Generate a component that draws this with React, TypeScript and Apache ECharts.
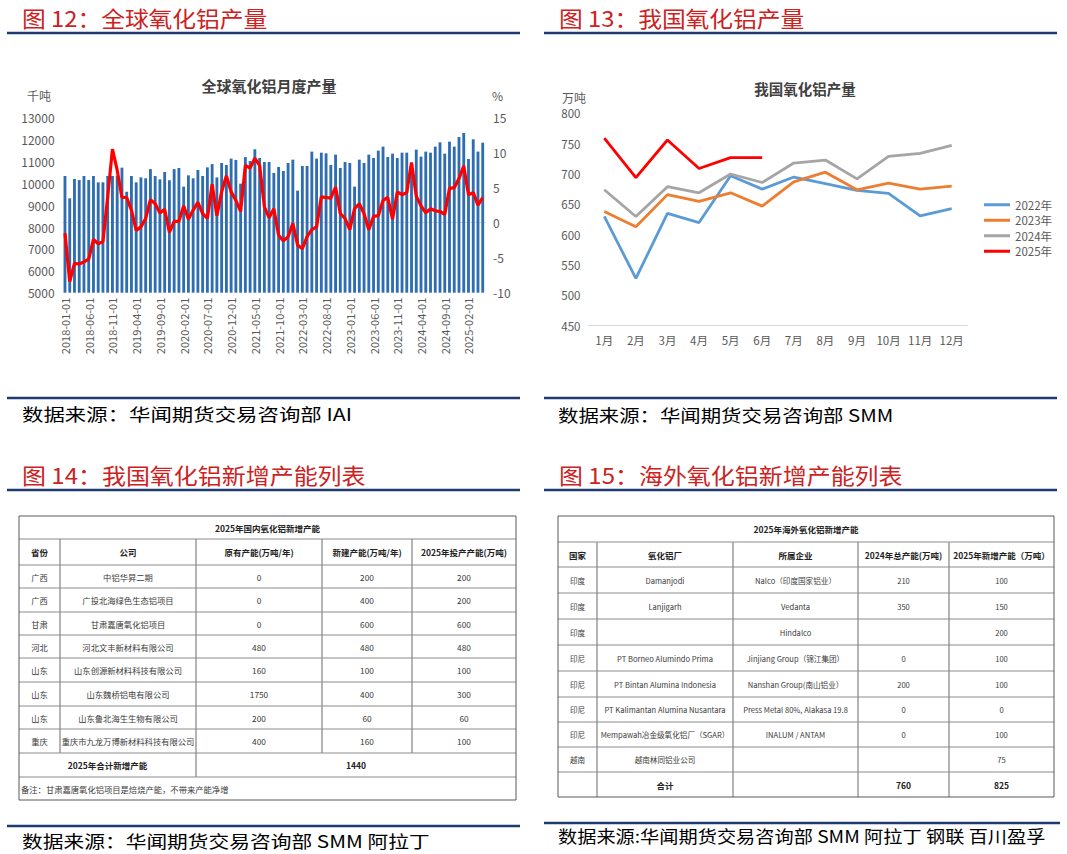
import React, { useEffect, useRef } from "react";
import * as echarts from "echarts";

const FONT = "'Noto Sans CJK SC', 'Noto Sans', sans-serif";

// ---------- Figure 12: global alumina monthly output ----------
function buildMonths(startYear: number, startMonth: number, count: number): string[] {
  const out: string[] = [];
  let y = startYear;
  let m = startMonth;
  for (let i = 0; i < count; i++) {
    out.push(`${y}-${String(m).padStart(2, "0")}-01`);
    m++;
    if (m > 12) { m = 1; y++; }
  }
  return out;
}
const globalDates = buildMonths(2018, 1, 89);

const globalOutput = [
  10335, 9314, 10200, 10150, 10335, 10150, 10335, 10045, 10045, 10335, 10335, 10350,
  10716, 9620, 10335, 10045, 10270, 10230, 10650, 10335, 10180, 10520, 10140, 10650,
  10700, 9850, 10365, 10230, 10610, 10335, 10730, 10880, 10270, 10930, 10840, 11130,
  11070, 9985, 11200, 11020, 11555, 11160, 10976, 10976, 10473, 10747, 10564, 10930,
  11082, 9665, 10793, 10793, 11448, 11128, 11402, 11372, 10838, 11311, 10701, 10976,
  10930, 9848, 11082, 10930, 11311, 11159, 11494, 11677, 11204, 11357, 11159, 11402,
  11402, 10700, 11540, 11220, 11448, 11402, 11677, 11875, 11357, 11905, 11677, 12119,
  12302, 11113, 12012, 11450, 11860,
];

const globalYoY = [
  -1.5, -8.4, -5.8, -5.9, -5.6, -5.2, -2.4, -3.0, -2.7, 3.7, 10.5, 7.5,
  3.6, 3.6, 1.8, -1.1, -0.6, 0.6, 3.3, 2.7, 1.4, 1.9, -1.4, 0.2,
  0.2, 2.4, 0.5, 1.8, 2.9, 1.3, 0.6, 5.5, 1.0, 4.4, 6.7, 4.4,
  3.2, 1.6, 8.2, 7.8, 9.2, 8.2, 2.3, 0.7, 2.0, -1.8, -2.6, -2.0,
  -0.1, -3.2, -3.7, -2.0, -1.0, -0.6, 3.7, 3.6, 3.5, 5.1, 1.3, 0.6,
  -1.0, 2.0, 2.7, 1.3, -1.0, 0.9, 1.0, 3.2, 3.6, 0.5, 4.4, 4.0,
  4.3, 8.6, 3.8, 2.4, 1.4, 2.0, 1.7, 1.6, 1.2, 4.9, 5.0, 6.3,
  8.1, 4.0, 4.3, 2.5, 3.6,
];

// ---------- Figure 13: China alumina output ----------
const cnMonths = ["1月", "2月", "3月", "4月", "5月", "6月", "7月", "8月", "9月", "10月", "11月", "12月"];
const cn2022 = [630, 528, 635, 620, 697, 675, 695, 684, 673, 668, 631, 643];
const cn2023 = [638, 613, 666, 655, 669, 647, 687, 703, 674, 685, 675, 680];
const cn2024 = [674, 630, 679, 669, 700, 686, 718, 723, 692, 729, 734, 747];
const cn2025 = [759, 694, 756, 709, 727, 727];
const cnSeriesNames = ["2022年", "2023年", "2024年", "2025年"];
const cnColors = ["#5b9bd5", "#ed7d31", "#a5a5a5", "#ff0000"];

// ---------- Figure 14 table ----------
const t14Title = "2025年国内氧化铝新增产能";
const t14Header = ["省份", "公司", "原有产能(万吨/年)", "新建产能(万吨/年)", "2025年投产产能(万吨)"];
const t14Rows = [
  ["广西", "中铝华昇二期", "0", "200", "200"],
  ["广西", "广投北海绿色生态铝项目", "0", "400", "200"],
  ["甘肃", "甘肃嘉唐氧化铝项目", "0", "600", "600"],
  ["河北", "河北文丰新材料有限公司", "480", "480", "480"],
  ["山东", "山东创源新材料科技有限公司", "160", "100", "100"],
  ["山东", "山东魏桥铝电有限公司", "1750", "400", "300"],
  ["山东", "山东鲁北海生生物有限公司", "200", "60", "60"],
  ["重庆", "重庆市九龙万博新材料科技有限公司", "400", "160", "100"],
];
const t14TotalLabel = "2025年合计新增产能";
const t14TotalValue = "1440";
const t14Note = "备注：甘肃嘉唐氧化铝项目是焙烧产能，不带来产能净增";

// ---------- Figure 15 table ----------
const t15Title = "2025年海外氧化铝新增产能";
const t15Header = ["国家", "氧化铝厂", "所属企业", "2024年总产能(万吨)", "2025年新增产能（万吨）"];
const t15Rows = [
  ["印度", "Damanjodi", "Nalco（印度国家铝业）", "210", "100"],
  ["印度", "Lanjigarh", "Vedanta", "350", "150"],
  ["印度", "", "Hindalco", "", "200"],
  ["印尼", "PT Borneo Alumindo Prima", "Jinjiang Group（锦江集团）", "0", "100"],
  ["印尼", "PT Bintan Alumina Indonesia", "Nanshan Group(南山铝业）", "200", "100"],
  ["印尼", "PT Kalimantan Alumina Nusantara", "Press Metal 80%, Alakasa 19.8", "0", "0"],
  ["印尼", "Mempawah冶金级氧化铝厂（SGAR）", "INALUM / ANTAM", "0", "100"],
  ["越南", "越南林同铝业公司", "", "", "75"],
];
const t15Total = ["", "合计", "", "760", "825"];

// ---------- helpers ----------
function txt(text: string, x: number, y: number, o: any = {}) {
  const align = o.align || "left";
  return {
    type: "text",
    silent: true,
    x,
    y,
    scaleX: o.scaleX || 1,
    z: 10,
    style: {
      text,
      fill: o.color || "#333",
      fontSize: o.fontSize || 12,
      fontFamily: o.fontFamily || FONT,
      fontWeight: o.fontWeight || "normal",
      textAlign: align,
      textVerticalAlign: "middle",
      align,
      verticalAlign: "middle",
    },
  };
}
function hline(x1: number, x2: number, y: number, color: string, w: number) {
  return { type: "line", silent: true, z: 5, shape: { x1, y1: y, x2, y2: y }, style: { stroke: color, lineWidth: w } };
}
function vline(x: number, y1: number, y2: number, color: string, w: number) {
  return { type: "line", silent: true, z: 5, shape: { x1: x, y1, x2: x, y2 }, style: { stroke: color, lineWidth: w } };
}

const BORDER = "#8c8c8c";
const OUTER = "#595959";
const CELL_TXT = "#3a3a3a";

function table14(): any[] {
  const cols = [19, 60, 196, 322, 412, 516];
  const rows = [516, 539, 565, 588, 612, 635, 658, 682, 706, 729, 753, 777, 800];
  const g: any[] = [];
  g.push({ type: "rect", silent: true, z: 6, shape: { x: cols[0], y: rows[0], width: cols[5] - cols[0], height: rows[12] - rows[0] }, style: { fill: "none", stroke: OUTER, lineWidth: 1 } });
  for (let r = 1; r < rows.length - 1; r++) g.push(hline(cols[0], cols[5], rows[r], BORDER, 1));
  for (let c = 1; c < cols.length - 1; c++) g.push(vline(cols[c], rows[1], rows[10], BORDER, 1.3));
  g.push(vline(cols[2], rows[10], rows[11], BORDER, 1.3));
  const mid = (a: number, b: number) => (a + b) / 2;
  g.push(txt(t14Title, mid(cols[0], cols[5]), mid(rows[0], rows[1]), { align: "center", fontSize: 8.5, fontWeight: "bold", color: "#222" }));
  t14Header.forEach((h, c) => g.push(txt(h, mid(cols[c], cols[c + 1]), mid(rows[1], rows[2]), { align: "center", fontSize: 8.5, fontWeight: "bold", color: "#222" })));
  t14Rows.forEach((row, r) => row.forEach((v, c) => {
    if (v) g.push(txt(v, mid(cols[c], cols[c + 1]), mid(rows[r + 2], rows[r + 3]), { align: "center", fontSize: 8.3, color: CELL_TXT }));
  }));
  g.push(txt(t14TotalLabel, mid(cols[0], cols[2]), mid(rows[10], rows[11]), { align: "center", fontSize: 8.5, fontWeight: "bold", color: "#222" }));
  g.push(txt(t14TotalValue, mid(cols[2], cols[5]), mid(rows[10], rows[11]), { align: "center", fontSize: 8.5, fontWeight: "bold", color: "#222" }));
  g.push(txt(t14Note, cols[0] + 2, mid(rows[11], rows[12]), { align: "left", fontSize: 8.3, color: CELL_TXT }));
  return g;
}

function table15(): any[] {
  const cols = [558, 597, 733, 858, 949, 1054];
  const rows = [516, 542, 567, 593, 619, 645, 671, 697, 722, 747, 772, 797];
  const g: any[] = [];
  g.push({ type: "rect", silent: true, z: 6, shape: { x: cols[0], y: rows[0], width: cols[5] - cols[0], height: rows[11] - rows[0] }, style: { fill: "none", stroke: OUTER, lineWidth: 1 } });
  for (let r = 1; r < rows.length - 1; r++) g.push(hline(cols[0], cols[5], rows[r], BORDER, 1));
  for (let c = 1; c < cols.length - 1; c++) g.push(vline(cols[c], rows[1], rows[11], BORDER, 1.3));
  const mid = (a: number, b: number) => (a + b) / 2;
  g.push(txt(t15Title, mid(cols[0], cols[5]), mid(rows[0], rows[1]), { align: "center", fontSize: 8.5, fontWeight: "bold", color: "#222" }));
  t15Header.forEach((h, c) => g.push(txt(h, mid(cols[c], cols[c + 1]), mid(rows[1], rows[2]), { align: "center", fontSize: 8.5, fontWeight: "bold", color: "#222" })));
  t15Rows.forEach((row, r) => row.forEach((v, c) => {
    if (v) g.push(txt(v, mid(cols[c], cols[c + 1]), mid(rows[r + 2], rows[r + 3]), { align: "center", fontSize: 7.6, color: CELL_TXT }));
  }));
  t15Total.forEach((v, c) => {
    if (v) g.push(txt(v, mid(cols[c], cols[c + 1]), mid(rows[10], rows[11]), { align: "center", fontSize: 8.5, fontWeight: "bold", color: "#222" }));
  });
  return g;
}

const NAVY = "#1f3a70";
const RED_TITLE = "#cc2222";
const AXIS_TXT = "#595959";

export default function App() {
  const ref = useRef<HTMLDivElement>(null);
  useEffect(() => {
    if (!ref.current) return;
    const chart = echarts.init(ref.current, undefined, { renderer: "svg" });
    const graphic: any[] = [
      // headers
      txt("图 12：全球氧化铝产量", 22, 17, { fontSize: 22, color: RED_TITLE, scaleX: 1.08 }),
      txt("图 13：我国氧化铝产量", 559, 17, { fontSize: 22, color: RED_TITLE, scaleX: 1.08 }),
      txt("图 14：我国氧化铝新增产能列表", 22, 474, { fontSize: 22, color: RED_TITLE, scaleX: 1.09 }),
      txt("图 15：海外氧化铝新增产能列表", 559, 474, { fontSize: 22, color: RED_TITLE, scaleX: 1.09 }),
      hline(7, 520, 33, NAVY, 2.5),
      hline(544, 1057, 33, NAVY, 2.5),
      hline(7, 520, 398, NAVY, 2.5),
      hline(544, 1057, 398, NAVY, 2.5),
      hline(7, 520, 490, NAVY, 2.5),
      hline(544, 1057, 490, NAVY, 2.5),
      hline(7, 520, 826, NAVY, 2.5),
      hline(544, 1060, 823, NAVY, 2.5),
      // sources
      txt("数据来源：华闻期货交易咨询部 IAI", 22, 414, { fontSize: 17, color: "#000", scaleX: 1.26 }),
      txt("数据来源：华闻期货交易咨询部 SMM", 558, 414, { fontSize: 17, color: "#000", scaleX: 1.2 }),
      txt("数据来源：华闻期货交易咨询部 SMM 阿拉丁", 22, 840, { fontSize: 17, color: "#000", scaleX: 1.22 }),
      txt("数据来源:华闻期货交易咨询部 SMM 阿拉丁 钢联 百川盈孚", 558, 836, { fontSize: 17, color: "#000", scaleX: 1.13 }),
      // chart titles and units
      txt("全球氧化铝月度产量", 269, 85, { fontSize: 15, fontWeight: "bold", color: "#404040", align: "center" }),
      txt("千吨", 27, 95, { fontSize: 12, color: AXIS_TXT }),
      txt("%", 492, 95, { fontSize: 12, color: AXIS_TXT }),
      txt("我国氧化铝产量", 805, 88, { fontSize: 14.5, fontWeight: "bold", color: "#404040", align: "center" }),
      txt("万吨", 562, 97, { fontSize: 12, color: AXIS_TXT }),
      ...table14(),
      ...table15(),
    ];

    const option: any = {
      animation: false,
      backgroundColor: "#ffffff",
      textStyle: { fontFamily: FONT },
      grid: [
        { left: 62.6, top: 117.7, width: 422.5, height: 175 },
        { left: 588.5, top: 113.3, width: 379, height: 212.4 },
      ],
      xAxis: [
        {
          type: "category",
          gridIndex: 0,
          data: globalDates,
          axisLine: { show: true, lineStyle: { color: "#d9d9d9" } },
          axisTick: { show: true, interval: 4, alignWithLabel: true, length: 4, lineStyle: { color: "#d9d9d9" } },
          axisLabel: { interval: 4, rotate: 90, fontSize: 11, color: AXIS_TXT, margin: 5, fontFamily: FONT },
        },
        {
          type: "category",
          gridIndex: 1,
          data: cnMonths,
          axisLine: { show: true, lineStyle: { color: "#d9d9d9", width: 1 } },
          axisTick: { show: false },
          axisLabel: { fontSize: 11.5, color: AXIS_TXT, margin: 9, fontFamily: FONT },
        },
      ],
      yAxis: [
        {
          type: "value",
          gridIndex: 0,
          min: 5000,
          max: 13000,
          interval: 1000,
          splitLine: { show: false },
          axisLine: { show: false },
          axisTick: { show: false },
          axisLabel: { fontSize: 12, color: AXIS_TXT, margin: 8, fontFamily: FONT, formatter: (v: number) => String(v) },
        },
        {
          type: "value",
          gridIndex: 0,
          position: "right",
          min: -10,
          max: 15,
          interval: 5,
          splitLine: { show: false },
          axisLine: { show: false },
          axisTick: { show: false },
          axisLabel: { fontSize: 12, color: AXIS_TXT, margin: 8, fontFamily: FONT },
        },
        {
          type: "value",
          gridIndex: 1,
          min: 450,
          max: 800,
          interval: 50,
          splitLine: { show: false },
          axisLine: { show: false },
          axisTick: { show: false },
          axisLabel: { fontSize: 11.5, color: AXIS_TXT, margin: 8, fontFamily: FONT },
        },
      ],
      legend: {
        orient: "vertical",
        left: 979,
        top: 194,
        itemWidth: 26,
        itemHeight: 3,
        itemGap: 4,
        icon: "rect",
        data: cnSeriesNames,
        textStyle: { fontSize: 11.5, color: AXIS_TXT, fontFamily: FONT },
      },
      series: [
        {
          name: "全球氧化铝产量",
          type: "bar",
          xAxisIndex: 0,
          yAxisIndex: 0,
          data: globalOutput,
          barWidth: "60%",
          itemStyle: { color: "#2f6db3" },
        },
        {
          name: "同比",
          type: "line",
          xAxisIndex: 0,
          yAxisIndex: 1,
          data: globalYoY,
          symbol: "none",
          lineStyle: { color: "#ff0000", width: 3.2 },
          z: 5,
        },
        ...[cn2022, cn2023, cn2024, cn2025].map((d, i) => ({
          name: cnSeriesNames[i],
          type: "line",
          xAxisIndex: 1,
          yAxisIndex: 2,
          data: d,
          symbol: "none",
          itemStyle: { color: cnColors[i] },
          lineStyle: { color: cnColors[i], width: 2.8 },
        })),
      ],
      graphic,
    };
    chart.setOption(option);
    return () => chart.dispose();
  }, []);
  return (
    <div
      ref={ref}
      style={{ position: "fixed", left: 0, top: 0, width: 1067, height: 854, background: "#fff" }}
    />
  );
}
